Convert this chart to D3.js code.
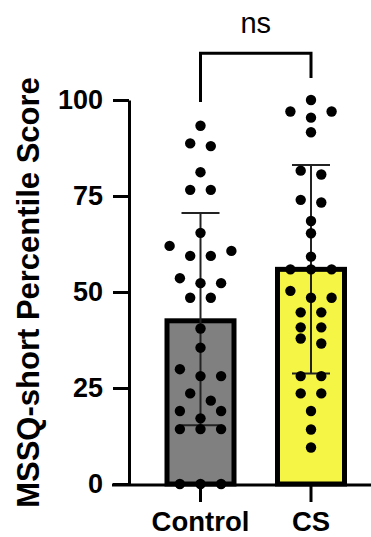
<!DOCTYPE html>
<html>
<head>
<meta charset="utf-8">
<script src="https://cdn.jsdelivr.net/npm/d3@7"></script>
<style>
  body { margin: 0; background: #fff; }
  text { font-family: "Liberation Sans", Arial, sans-serif; }
</style>
</head>
<body>
<div id="chart"></div>
<script>
// groups and values
let groups = ['Control', 'CS'];
let means = [42.5, 55.9];
let errHigh = [70.6, 83.1];
let errLow = [15.3, 28.8];
let controlScores = [93.3, 88.7, 88.0, 81.2, 76.6, 76.6, 65.4, 62.0, 60.7, 59.4, 59.4,
  53.6, 52.3, 52.3, 48.5, 48.5, 40.5, 35.5, 29.9, 28.1, 28.1, 23.6, 21.7, 19.0, 19.0,
  17.1, 14.3, 14.3, 14.3, 0, 0, 0];
let csScores = [100, 97, 97, 95.4, 91.6, 81.6, 80.6, 74.0, 73.3, 68.5, 65.3, 59.2,
  55.9, 55.9, 55.9, 50.3, 48.5, 48.5, 44.7, 44.7, 40.8, 40.8, 37.9, 36.6, 28.1, 28.1,
  23.6, 23.6, 19.0, 14.2, 9.5];
let yTicks = [0, 25, 50, 75, 100];
let fills = ['#808080', '#f5f545'];

let w = 371;
let h = 537;

let svg = d3.select('#chart')
  .append('svg')
  .attr('width', w)
  .attr('height', h);

let y = d3.scaleLinear().domain([0, 100]).range([484, 100]);
let x = d3.scalePoint().domain(groups).range([200.5, 311]);
let barW = 67;
let slot = 10.3;

// y axis
let yAxis = svg.append('g')
  .attr('transform', 'translate(129,0)')
  .call(d3.axisLeft(y).tickValues(yTicks).tickSize(16).tickSizeOuter(0).tickPadding(10));
yAxis.select('.domain').attr('stroke', '#000').attr('stroke-width', 3);
yAxis.selectAll('.tick line').attr('stroke', '#000').attr('stroke-width', 3);
yAxis.selectAll('.tick text')
  .attr('fill', '#000')
  .style('font-size', '27px')
  .style('font-weight', 'bold')
  .style('font-family', '"Liberation Sans", Arial, sans-serif');

// bars
svg.selectAll('rect.bar')
  .data(groups)
  .enter()
  .append('rect')
  .attr('class', 'bar')
  .attr('x', function(d) { return x(d) - barW / 2; })
  .attr('y', function(d, i) { return y(means[i]); })
  .attr('width', barW)
  .attr('height', function(d, i) { return y(0) - y(means[i]); })
  .attr('fill', function(d, i) { return fills[i]; })
  .attr('stroke', '#000')
  .attr('stroke-width', 5);

// error bars
groups.forEach(function(g, i) {
  let cx = x(g);
  let eb = svg.append('g').attr('stroke', '#222').attr('stroke-width', 2);
  eb.append('line').attr('x1', cx).attr('x2', cx).attr('y1', y(errHigh[i])).attr('y2', y(errLow[i]));
  eb.append('line').attr('x1', cx - 19).attr('x2', cx + 19).attr('y1', y(errHigh[i])).attr('y2', y(errHigh[i]));
  eb.append('line').attr('x1', cx - 19).attr('x2', cx + 19).attr('y1', y(errLow[i])).attr('y2', y(errLow[i]));
});

// simple row-based swarm: close values share a row, spread outward first
function swarm(values) {
  let sorted = values.slice().sort(function(a, b) { return b - a; });
  let rows = [];
  sorted.forEach(function(v) {
    let last = rows[rows.length - 1];
    if (last && last[0] - v < 2.8) last.push(v);
    else rows.push([v]);
  });
  let out = [];
  rows.forEach(function(row) {
    let n = row.length;
    let offs = d3.range(n).map(function(i) { return (i - (n - 1) / 2) * 2; });
    offs.sort(function(a, b) { return Math.abs(b) - Math.abs(a) || a - b; });
    row.forEach(function(v, i) { out.push({ v: v, k: offs[i] }); });
  });
  return out;
}

[controlScores, csScores].forEach(function(scores, i) {
  let cx = x(groups[i]);
  svg.append('g')
    .selectAll('circle')
    .data(swarm(scores))
    .enter()
    .append('circle')
    .attr('cx', function(d) { return cx + d.k * slot; })
    .attr('cy', function(d) { return y(d.v); })
    .attr('r', 5.2)
    .attr('fill', '#000');
});

// x axis
svg.append('line')
  .attr('x1', 112).attr('x2', w)
  .attr('y1', 485).attr('y2', 485)
  .attr('stroke', '#000').attr('stroke-width', 3);
svg.selectAll('line.xtick')
  .data(groups)
  .enter()
  .append('line')
  .attr('class', 'xtick')
  .attr('x1', function(d) { return x(d); })
  .attr('x2', function(d) { return x(d); })
  .attr('y1', 485).attr('y2', 502)
  .attr('stroke', '#000').attr('stroke-width', 3);
svg.selectAll('text.xlab')
  .data(groups)
  .enter()
  .append('text')
  .attr('class', 'xlab')
  .attr('x', function(d) { return x(d); })
  .attr('y', 531)
  .attr('text-anchor', 'middle')
  .style('font-size', '27.5px')
  .style('font-weight', 'bold')
  .text(function(d) { return d; });

// y title
svg.append('text')
  .attr('transform', 'translate(38.5,292.5) rotate(-90)')
  .attr('text-anchor', 'middle')
  .style('font-size', '31px')
  .style('font-weight', 'bold')
  .text('MSSQ-short Percentile Score');

// significance bracket
let bx1 = x(groups[0]);
let bx2 = x(groups[1]);
svg.append('path')
  .attr('d', 'M' + bx1 + ',' + y(99.5) + 'V' + y(112.2) + 'H' + bx2 + 'V' + y(105.7))
  .attr('fill', 'none')
  .attr('stroke', '#000')
  .attr('stroke-width', 3);
svg.append('text')
  .attr('x', (bx1 + bx2) / 2)
  .attr('y', 33)
  .attr('text-anchor', 'middle')
  .style('font-size', '29px')
  .text('ns');
</script>
</body>
</html>
